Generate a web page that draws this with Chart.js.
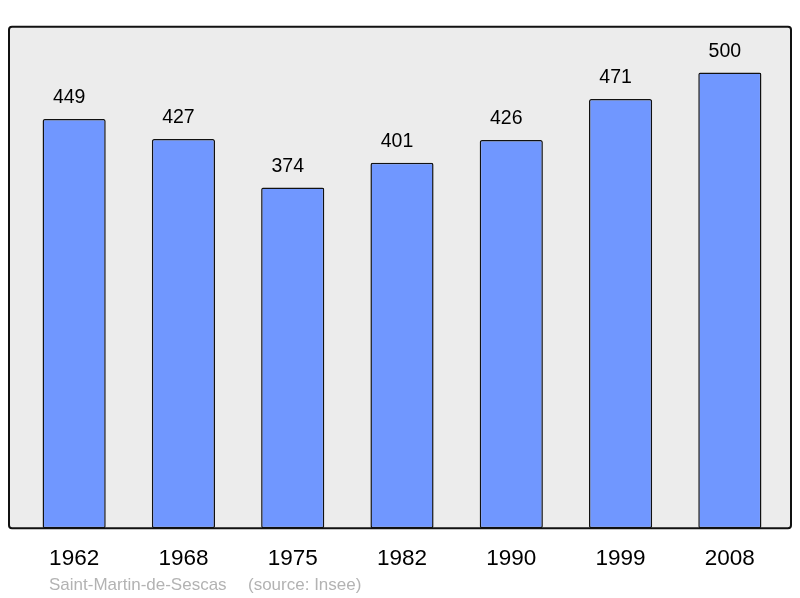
<!DOCTYPE html>
<html>
<head>
<meta charset="utf-8">
<script src="https://cdn.jsdelivr.net/npm/chart.js@4/dist/chart.umd.min.js"></script>
<style>
  html, body { margin: 0; padding: 0; background: #ffffff; }
  #wrap { width: 800px; height: 598px; }
</style>
</head>
<body>
<div id="wrap"><canvas id="popChart" width="800" height="598"></canvas></div>
<script>
// Population data
var years = ['1962', '1968', '1975', '1982', '1990', '1999', '2008'];
var population = [449, 427, 374, 401, 426, 471, 500];
var footerName = 'Saint-Martin-de-Sescas';
var footerSource = '(source: Insee)';

// Grey panel behind the bars, frame drawn over them
var panelPlugin = {
  id: 'panel',
  beforeDatasetsDraw: function (chart) {
    var ctx = chart.ctx;
    ctx.save();
    ctx.beginPath();
    ctx.roundRect(9, 26.7, 782, 501.6, 3);
    ctx.fillStyle = '#ececec';
    ctx.fill();
    ctx.restore();
  },
  afterDatasetsDraw: function (chart) {
    var ctx = chart.ctx;
    ctx.save();
    ctx.beginPath();
    ctx.roundRect(9, 26.7, 782, 501.6, 3);
    ctx.lineWidth = 2;
    ctx.strokeStyle = '#111111';
    ctx.stroke();
    ctx.restore();
  }
};

// Value labels above each bar + footer line
var labelPlugin = {
  id: 'valueLabels',
  afterDraw: function (chart) {
    var ctx = chart.ctx;
    var meta = chart.getDatasetMeta(0);
    ctx.save();
    ctx.font = '19.5px "Liberation Sans", Arial, sans-serif';
    ctx.fillStyle = '#000000';
    ctx.textAlign = 'center';
    ctx.textBaseline = 'middle';
    meta.data.forEach(function (bar, i) {
      // labels sit a little left of the bar centre in the original
      ctx.fillText(String(population[i]), bar.x - 5, bar.y - 21);
    });
    ctx.font = '17px "Liberation Sans", Arial, sans-serif';
    ctx.fillStyle = '#b3b3b3';
    ctx.textAlign = 'left';
    ctx.fillText(footerName, 49, 585);
    ctx.fillText(footerSource, 248, 585);
    ctx.restore();
  }
};

var ctx = document.getElementById('popChart').getContext('2d');
new Chart(ctx, {
  type: 'bar',
  data: {
    labels: years,
    datasets: [{
      data: population,
      backgroundColor: '#7097ff',
      borderColor: '#111111',
      borderWidth: 1.5,
      borderRadius: 2,
      borderSkipped: false,
      categoryPercentage: 1,
      barPercentage: 0.578
    }]
  },
  options: {
    responsive: false,
    animation: false,
    layout: {
      padding: { left: 19.5, right: 15.5, top: 27, bottom: 0 }
    },
    scales: {
      x: {
        grid: { display: false, drawTicks: false },
        border: { display: false },
        ticks: {
          color: '#000000',
          padding: 17,
          font: { family: '"Liberation Sans", Arial, sans-serif', size: 22.5 }
        },
        afterFit: function (scale) { scale.height = 69.7; }
      },
      y: {
        display: false,
        min: 0,
        max: 550
      }
    },
    plugins: {
      legend: { display: false },
      tooltip: { enabled: false }
    }
  },
  plugins: [panelPlugin, labelPlugin]
});
</script>
</body>
</html>
